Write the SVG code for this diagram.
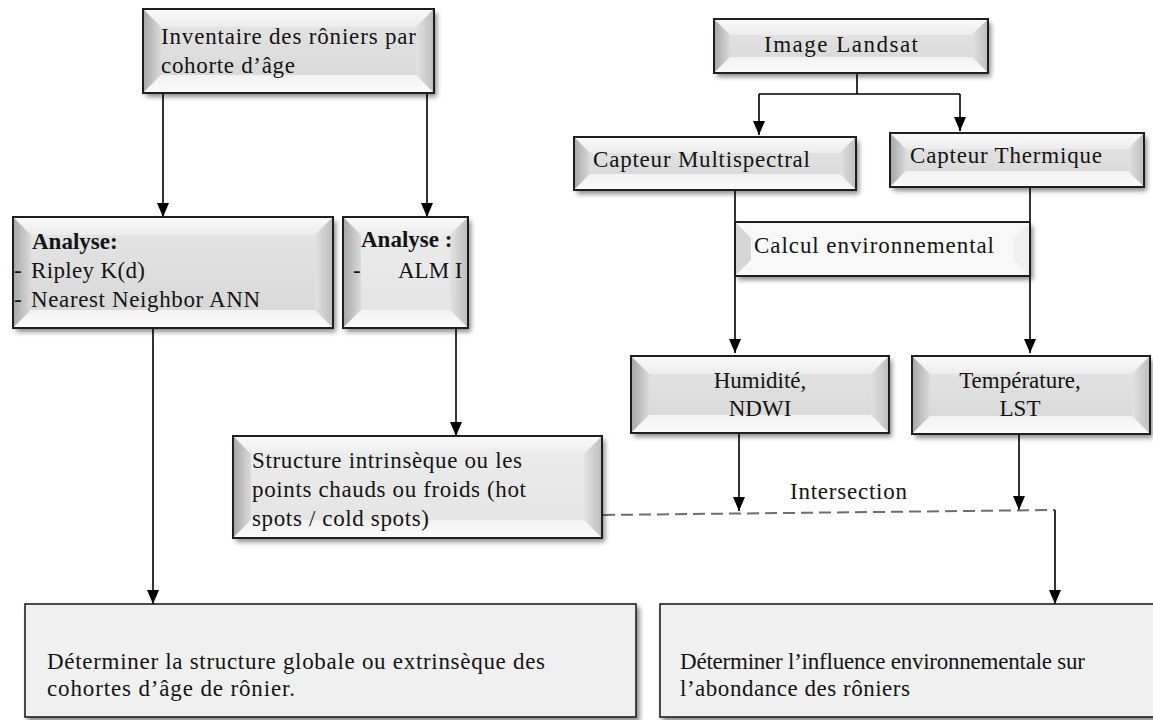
<svg xmlns="http://www.w3.org/2000/svg" width="1153" height="720" viewBox="0 0 1153 720">
<defs>
<filter id="sh" x="-10%" y="-10%" width="125%" height="140%">
<feDropShadow dx="3" dy="4" stdDeviation="2.5" flood-color="#000" flood-opacity="0.45"/>
</filter>
<linearGradient id="gFace" x1="0" y1="0" x2="0" y2="1">
<stop offset="0" stop-color="#e6e6e6"/><stop offset="1" stop-color="#d6d6d6"/>
</linearGradient>
<linearGradient id="gFaceL" x1="0" y1="0" x2="0" y2="1">
<stop offset="0" stop-color="#ededed"/><stop offset="1" stop-color="#e3e3e3"/>
</linearGradient>
<linearGradient id="gLeft" x1="0" y1="0" x2="1" y2="0">
<stop offset="0" stop-color="#a6a6a6"/><stop offset="1" stop-color="#dadada"/>
</linearGradient>
<linearGradient id="gRight" x1="0" y1="0" x2="1" y2="0">
<stop offset="0" stop-color="#e2e2e2"/><stop offset="1" stop-color="#bdbdbd"/>
</linearGradient>
<linearGradient id="gTop" x1="0" y1="0" x2="0" y2="1">
<stop offset="0" stop-color="#fafafa"/><stop offset="1" stop-color="#ececec"/>
</linearGradient>
<linearGradient id="gBot" x1="0" y1="0" x2="0" y2="1">
<stop offset="0" stop-color="#f2f2f2"/><stop offset="1" stop-color="#fbfbfb"/>
</linearGradient>
<marker id="ah" markerUnits="userSpaceOnUse" markerWidth="14" markerHeight="14" viewBox="0 0 14 14" refX="14" refY="7" orient="auto">
<path d="M0,1 L14,7 L0,13 Z" fill="#000"/>
</marker>
</defs>
<style>
.base{filter:url(#sh);fill:url(#gFace)}
.baseL{filter:url(#sh);fill:url(#gFaceL)}
.top{fill:url(#gTop)}
.left{fill:url(#gLeft)}
.right{fill:url(#gRight)}
.bot{fill:url(#gBot)}
.brd{fill:none;stroke:#1e1e1e;stroke-width:2}
.plain{fill:#f0f0f0;stroke:#1e1e1e;stroke-width:1.6;filter:url(#sh)}
.t{font-family:"Liberation Serif","Times New Roman",serif;font-size:23px;fill:#141414}
.b{font-weight:bold}
.c{text-anchor:middle}
.ln{fill:none;stroke:#000;stroke-width:1.6}
.arr{marker-end:url(#ah)}
.dash{fill:none;stroke:#6e6e6e;stroke-width:2;stroke-dasharray:12 6}
</style>

<g id="connectors">
<line class="ln arr" x1="163" y1="93" x2="163" y2="217"/>
<line class="ln arr" x1="427" y1="93" x2="427" y2="217"/>
<line class="ln arr" x1="153" y1="328" x2="153" y2="604"/>
<line class="ln arr" x1="456" y1="328" x2="456" y2="436"/>
<path class="ln" d="M857,73 V94 M759,94 H960"/>
<line class="ln arr" x1="759" y1="94" x2="759" y2="135"/>
<line class="ln arr" x1="960" y1="94" x2="960" y2="131"/>
<line class="ln arr" x1="735" y1="190" x2="735" y2="353"/>
<line class="ln arr" x1="1030" y1="187" x2="1030" y2="353"/>
<line class="ln arr" x1="739" y1="433" x2="739" y2="511"/>
<line class="ln arr" x1="1019" y1="434" x2="1019" y2="510"/>
<path class="dash" d="M603,515 L1055,510"/>
<line class="ln arr" x1="1055" y1="510" x2="1055" y2="604"/>
<text class="t" x="790" y="499" textLength="117" lengthAdjust="spacing">Intersection</text>
</g>

<g id="n_inventaire">
<rect class="base" x="143" y="9" width="291" height="84"/>
<polygon class="top" points="143,9 434,9 416,27 161,27"/>
<polygon class="left" points="143,9 161,27 161,75 143,93"/>
<polygon class="right" points="434,9 434,93 416,75 416,27"/>
<polygon class="bot" points="143,93 161,75 416,75 434,93"/>
<rect class="brd" x="143" y="9" width="291" height="84"/>
<text class="t" x="161" y="44" textLength="255" lengthAdjust="spacing">Inventaire des rôniers par</text>
<text class="t" x="161" y="73" textLength="134" lengthAdjust="spacing">cohorte d’âge</text>
</g>

<g id="n_analyse1">
<rect class="base" x="13" y="217" width="320" height="111"/>
<polygon class="top" points="13,217 333,217 315,235 31,235"/>
<polygon class="left" points="13,217 31,235 31,310 13,328"/>
<polygon class="right" points="333,217 333,328 315,310 315,235"/>
<polygon class="bot" points="13,328 31,310 315,310 333,328"/>
<rect class="brd" x="13" y="217" width="320" height="111"/>
<text class="t b" x="32" y="249">Analyse:</text>
<text class="t" x="14" y="278">-</text>
<text class="t" x="31" y="278" textLength="114" lengthAdjust="spacing">Ripley K(d)</text>
<text class="t" x="14" y="307">-</text>
<text class="t" x="31" y="307" textLength="229" lengthAdjust="spacing">Nearest Neighbor  ANN</text>
</g>

<g id="n_analyse2">
<rect class="baseL" x="343" y="217" width="125" height="111"/>
<polygon class="top" points="343,217 468,217 450,235 361,235"/>
<polygon class="left" points="343,217 361,235 361,310 343,328"/>
<polygon class="right" points="468,217 468,328 450,310 450,235"/>
<polygon class="bot" points="343,328 361,310 450,310 468,328"/>
<rect class="brd" x="343" y="217" width="125" height="111"/>
<text class="t b" x="361" y="247">Analyse :</text>
<text class="t" x="353" y="278">-</text>
<text class="t" x="398" y="278">ALM I</text>
</g>

<g id="n_structure">
<rect class="baseL" x="233" y="436" width="369" height="102"/>
<polygon class="top" points="233,436 602,436 584,454 251,454"/>
<polygon class="left" points="233,436 251,454 251,520 233,538"/>
<polygon class="right" points="602,436 602,538 584,520 584,454"/>
<polygon class="bot" points="233,538 251,520 584,520 602,538"/>
<rect class="brd" x="233" y="436" width="369" height="102"/>
<text class="t" x="252" y="468" textLength="270" lengthAdjust="spacing">Structure intrinsèque  ou les</text>
<text class="t" x="252" y="497" textLength="274" lengthAdjust="spacing">points chauds ou froids (hot</text>
<text class="t" x="252" y="526" textLength="177" lengthAdjust="spacing">spots / cold spots)</text>
</g>

<g id="n_landsat">
<rect class="base" x="714" y="19" width="274" height="54"/>
<polygon class="top" points="714,19 988,19 972,35 730,35"/>
<polygon class="left" points="714,19 730,35 730,57 714,73"/>
<polygon class="right" points="988,19 988,73 972,57 972,35"/>
<polygon class="bot" points="714,73 730,57 972,57 988,73"/>
<rect class="brd" x="714" y="19" width="274" height="54"/>
<text class="t" x="764" y="52" textLength="154" lengthAdjust="spacing">Image Landsat</text>
</g>

<g id="n_multispectral">
<rect class="base" x="574" y="137" width="282" height="53"/>
<polygon class="top" points="574,137 856,137 840,153 590,153"/>
<polygon class="left" points="574,137 590,153 590,174 574,190"/>
<polygon class="right" points="856,137 856,190 840,174 840,153"/>
<polygon class="bot" points="574,190 590,174 840,174 856,190"/>
<rect class="brd" x="574" y="137" width="282" height="53"/>
<text class="t" x="593" y="167" textLength="217" lengthAdjust="spacing">Capteur Multispectral</text>
</g>

<g id="n_thermique">
<rect class="base" x="890" y="133" width="254" height="54"/>
<polygon class="top" points="890,133 1144,133 1128,149 906,149"/>
<polygon class="left" points="890,133 906,149 906,171 890,187"/>
<polygon class="right" points="1144,133 1144,187 1128,171 1128,149"/>
<polygon class="bot" points="890,187 906,171 1128,171 1144,187"/>
<rect class="brd" x="890" y="133" width="254" height="54"/>
<text class="t" x="910" y="163" textLength="192" lengthAdjust="spacing">Capteur Thermique</text>
</g>

<g id="n_calcul">
<rect x="735" y="222" width="295" height="54" fill="#f8f8f8" filter="url(#sh)"/>
<polygon points="735,222 751,238 751,260 735,276" fill="#d6d6d6"/>
<polygon points="1030,222 1030,276 1014,260 1014,238" fill="#efefef"/>
<rect class="brd" x="735" y="222" width="295" height="54"/>
<text class="t" x="754" y="253" textLength="240" lengthAdjust="spacing">Calcul environnemental</text>
</g>

<g id="n_humidite">
<rect class="base" x="631" y="356" width="258" height="77"/>
<polygon class="top" points="631,356 889,356 871,374 649,374"/>
<polygon class="left" points="631,356 649,374 649,415 631,433"/>
<polygon class="right" points="889,356 889,433 871,415 871,374"/>
<polygon class="bot" points="631,433 649,415 871,415 889,433"/>
<rect class="brd" x="631" y="356" width="258" height="77"/>
<text class="t c" x="760" y="388">Humidité,</text>
<text class="t c" x="760" y="416">NDWI</text>
</g>

<g id="n_temperature">
<rect class="base" x="912" y="356" width="238" height="78"/>
<polygon class="top" points="912,356 1150,356 1132,374 930,374"/>
<polygon class="left" points="912,356 930,374 930,416 912,434"/>
<polygon class="right" points="1150,356 1150,434 1132,416 1132,374"/>
<polygon class="bot" points="912,434 930,416 1132,416 1150,434"/>
<rect class="brd" x="912" y="356" width="238" height="78"/>
<text class="t c" x="1020" y="388">Température,</text>
<text class="t c" x="1020" y="416">LST</text>
</g>

<g id="n_structure_globale">
<rect class="plain" x="25" y="604" width="611" height="113"/>
<text class="t" x="47" y="669" textLength="498" lengthAdjust="spacing">Déterminer la structure globale ou extrinsèque des</text>
<text class="t" x="47" y="696" textLength="248" lengthAdjust="spacing">cohortes  d’âge de rônier.</text>
</g>

<g id="n_influence">
<rect class="plain" x="660" y="604" width="500" height="113"/>
<text class="t" x="680" y="669" textLength="405" lengthAdjust="spacing">Déterminer l’influence environnementale sur</text>
<text class="t" x="680" y="696" textLength="230" lengthAdjust="spacing">l’abondance des rôniers</text>
</g>
</svg>
